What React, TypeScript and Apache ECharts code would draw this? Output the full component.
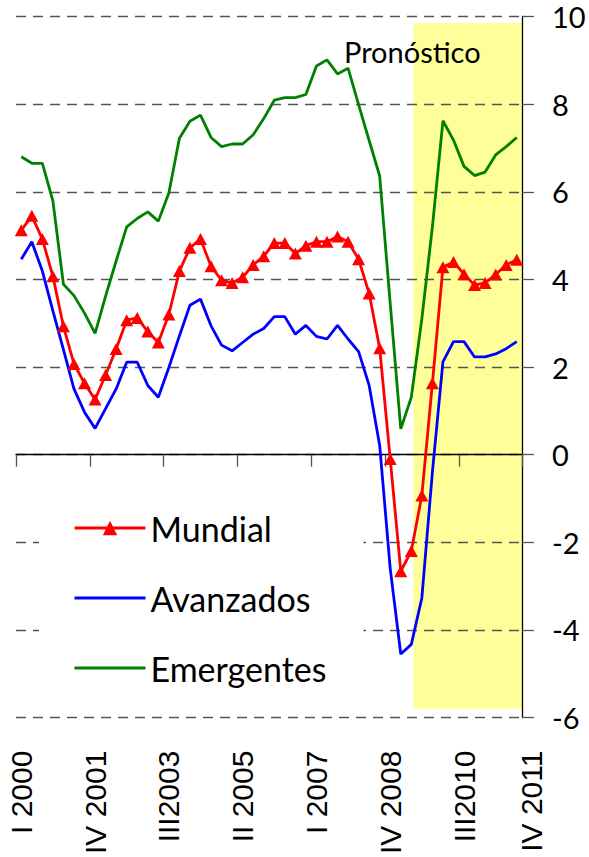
import React, { useEffect, useRef } from "react";
import * as echarts from "echarts";

const quarters: string[] = [
  "I 2000", "II 2000", "III2000", "IV 2000",
  "I 2001", "II 2001", "III2001", "IV 2001",
  "I 2002", "II 2002", "III2002", "IV 2002",
  "I 2003", "II 2003", "III2003", "IV 2003",
  "I 2004", "II 2004", "III2004", "IV 2004",
  "I 2005", "II 2005", "III2005", "IV 2005",
  "I 2006", "II 2006", "III2006", "IV 2006",
  "I 2007", "II 2007", "III2007", "IV 2007",
  "I 2008", "II 2008", "III2008", "IV 2008",
  "I 2009", "II 2009", "III2009", "IV 2009",
  "I 2010", "II 2010", "III2010", "IV 2010",
  "I 2011", "II 2011", "III2011", "IV 2011",
];

const labelShown: number[] = [0, 7, 14, 21, 28, 35, 42, 47];

const mundial: number[] = [
  5.12, 5.45, 4.92, 4.07, 2.93, 2.07, 1.63, 1.26,
  1.82, 2.41, 3.07, 3.12, 2.81, 2.56, 3.2, 4.19,
  4.72, 4.92, 4.3, 3.98, 3.92, 4.05, 4.33, 4.53,
  4.83, 4.83, 4.59, 4.77, 4.86, 4.86, 4.98, 4.86,
  4.46, 3.68, 2.43, -0.1, -2.66, -2.2, -0.93, 1.63,
  4.28, 4.4, 4.12, 3.87, 3.92, 4.11, 4.33, 4.45,
];

const avanzados: number[] = [
  4.46, 4.86, 4.19, 3.28, 2.4, 1.5, 0.97, 0.6,
  1.05, 1.5, 2.11, 2.11, 1.58, 1.31, 1.99, 2.71,
  3.41, 3.55, 2.94, 2.5, 2.37, 2.56, 2.75, 2.88,
  3.15, 3.15, 2.75, 2.95, 2.7, 2.64, 2.95, 2.64,
  2.35, 1.58, 0.21, -2.6, -4.55, -4.33, -3.27, -0.4,
  2.12, 2.58, 2.58, 2.23, 2.23, 2.3, 2.42, 2.58,
];

const emergentes: number[] = [
  6.8, 6.65, 6.65, 5.79, 3.89, 3.63, 3.23, 2.77,
  3.62, 4.42, 5.2, 5.39, 5.54, 5.33, 5.97, 7.22,
  7.61, 7.75, 7.24, 7.03, 7.09, 7.09, 7.3, 7.67,
  8.09, 8.15, 8.15, 8.22, 8.87, 9.01, 8.69, 8.82,
  7.99, 7.17, 6.36, 3.45, 0.59, 1.31, 3.1, 5.2,
  7.62, 7.18, 6.58, 6.37, 6.45, 6.84, 7.03, 7.24,
];

// Forecast (Pronóstico) shaded region, in quarter-index units / value units
const forecastX: number[] = [37.7, 48];
const forecastY: number[] = [-5.8, 9.85];

export default function App() {
  const ref = useRef<HTMLDivElement>(null);

  useEffect(() => {
    if (!ref.current) return;
    const chart = echarts.init(ref.current, undefined, { renderer: "svg" });

    const lastIdx = quarters.length - 1;
    const hiddenSymbol = { color: "rgba(0,0,0,0)", opacity: 0, borderWidth: 0 };

    chart.setOption({
      animation: false,
      backgroundColor: "#fff",
      grid: { left: 16, right: 67, top: 16.5, height: 703, containLabel: false },
      legend: {
        orient: "vertical",
        left: 39,
        top: 491,
        padding: [20, 37, 20, 34],
        backgroundColor: "#fff",
        itemWidth: 71,
        itemHeight: 18,
        itemGap: 36,
        lineStyle: { width: 3 },
        textStyle: { fontSize: 34, fontFamily: "Lato", color: "#000" },
        data: [
          "Mundial",
          { name: "Avanzados", itemStyle: hiddenSymbol },
          { name: "Emergentes", itemStyle: hiddenSymbol },
        ],
      },
      xAxis: [
        {
          type: "category",
          data: quarters,
          position: "bottom",
          boundaryGap: true,
          axisLine: { show: false, onZero: false },
          axisTick: { show: false },
          splitLine: { show: false },
          axisLabel: {
            interval: (idx: number) => labelShown.includes(idx),
            formatter: (val: string, idx: number) =>
              idx === lastIdx ? `{s|${val}}` : val,
            rich: {
              s: {
                fontSize: 30,
                fontFamily: "Liberation Sans",
                color: "#000",
                padding: [30, 0, 0, 0],
              },
            },
            rotate: 90,
            margin: 33,
            fontSize: 30,
            fontFamily: "Liberation Sans",
            color: "#000",
          },
        },
        {
          type: "value",
          min: 0,
          max: 48,
          interval: 7,
          position: "bottom",
          axisLine: { show: true, onZero: true, lineStyle: { color: "#000", width: 1.3 } },
          axisTick: { show: true, length: 12, lineStyle: { color: "#555", width: 1.3 } },
          axisLabel: { show: false },
          splitLine: { show: false },
        },
      ],
      yAxis: {
        type: "value",
        position: "right",
        min: -6,
        max: 10,
        interval: 2,
        axisLine: { show: true, onZero: false, lineStyle: { color: "#000", width: 1.3 } },
        axisTick: { show: true, inside: false, length: 12, lineStyle: { color: "#555", width: 1.3 } },
        axisLabel: { margin: 30, fontSize: 29, fontFamily: "Lato", color: "#000" },
        splitLine: {
          show: true,
          lineStyle: { color: "#555", width: 1.3, type: [10, 7] },
        },
      },
      graphic: [
        {
          type: "text",
          x: 344,
          y: 51,
          z: 10,
          style: {
            text: "Pronóstico",
            fontSize: 29,
            fontFamily: "Lato",
            fill: "#000",
            verticalAlign: "middle",
          },
        },
      ],
      series: [
        {
          name: "forecast",
          type: "line",
          xAxisIndex: 1,
          data: [],
          z: -1,
          silent: true,
          markArea: {
            z: -1,
            silent: true,
            itemStyle: { color: "#FFFF99" },
            data: [
              [
                { xAxis: forecastX[0], yAxis: forecastY[0] },
                { xAxis: forecastX[1], yAxis: forecastY[1] },
              ],
            ],
          },
        },
        {
          name: "Mundial",
          type: "line",
          xAxisIndex: 0,
          data: mundial,
          symbol: "triangle",
          symbolSize: [13, 12],
          showAllSymbol: true,
          itemStyle: { color: "#FF0000" },
          lineStyle: { color: "#FF0000", width: 2.8 },
        },
        {
          name: "Avanzados",
          type: "line",
          xAxisIndex: 0,
          data: avanzados,
          symbol: "none",
          itemStyle: { color: "#0000FF" },
          lineStyle: { color: "#0000FF", width: 2.8 },
        },
        {
          name: "Emergentes",
          type: "line",
          xAxisIndex: 0,
          data: emergentes,
          symbol: "none",
          itemStyle: { color: "#008000" },
          lineStyle: { color: "#008000", width: 2.8 },
        },
      ],
    });

    return () => chart.dispose();
  }, []);

  return (
    <div
      ref={ref}
      style={{ position: "absolute", left: 0, top: 0, width: 589, height: 857 }}
    />
  );
}
